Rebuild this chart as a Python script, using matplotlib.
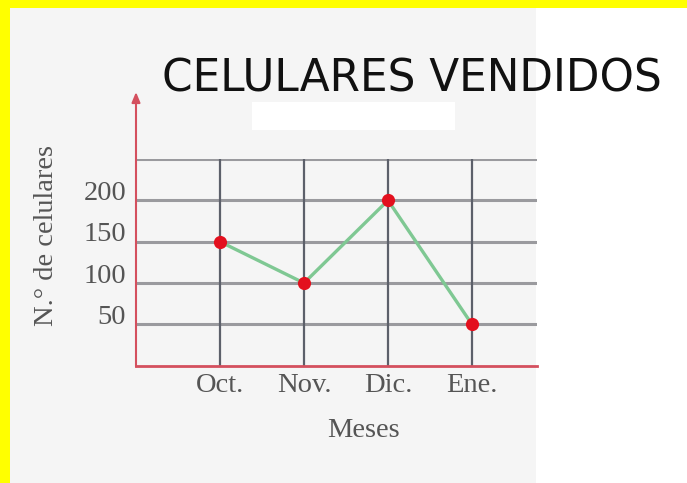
import matplotlib
matplotlib.use("Agg")
import matplotlib.pyplot as plt
from matplotlib.patches import Rectangle
from matplotlib.transforms import ScaledTranslation

# ---- data ----
meses = ["Oct.", "Nov.", "Dic.", "Ene."]
celulares = [150, 100, 200, 50]
y_grid = [50, 100, 150, 200, 250]
y_labels = ["50", "100", "150", "200", ""]
titulo = "CELULARES VENDIDOS"
x_label = "Meses"
y_label = "N.° de celulares"

W, H = 687, 483
fig = plt.figure(figsize=(W / 100, H / 100), dpi=100, facecolor="white")

def fx(px):
    return px / W

def fy(py):
    return 1 - py / H

# background panel and yellow border
fig.patches.append(Rectangle((fx(10), 0), fx(536) - fx(10), fy(8), transform=fig.transFigure,
                             facecolor="#f5f5f5", edgecolor="none", zorder=0))
fig.patches.append(Rectangle((0, fy(8)), 1, 1 - fy(8), transform=fig.transFigure,
                             facecolor="#ffff00", edgecolor="none", zorder=1))
fig.patches.append(Rectangle((0, 0), fx(10), 1, transform=fig.transFigure,
                             facecolor="#ffff00", edgecolor="none", zorder=1))
# small white box below title
fig.patches.append(Rectangle((fx(252), fy(130)), fx(455) - fx(252), fy(102) - fy(130),
                             transform=fig.transFigure, facecolor="white", edgecolor="none", zorder=1))

ax = fig.add_axes([fx(136), fy(365.7), fx(537) - fx(136), fy(159) - fy(365.7)])
ax.set_zorder(5)
ax.set_facecolor("none")
x = list(range(1, len(meses) + 1))
ax.set_xlim(0, 4.774)
ax.set_ylim(0, 250)

# grid
for v in y_grid:
    ax.axhline(v, color="#9a9a9e", lw=2.2, zorder=1)
for xi in x:
    ax.plot([xi, xi], [0, 250], color="#5c606a", lw=1.6, zorder=2)

# axes (red) with arrow
red = "#d4505e"
ax.axhline(0, color=red, lw=2.0, zorder=3, clip_on=False)
ax.annotate("", xy=(0, 331), xytext=(0, -1), xycoords="data",
            arrowprops=dict(arrowstyle="-|>,head_length=0.6,head_width=0.25",
                            color=red, lw=1.5, shrinkA=0, shrinkB=0),
            annotation_clip=False, zorder=3)

for s in ax.spines.values():
    s.set_visible(False)

# data line
ax.plot(x, celulares, color="#7fc893", lw=2.4, zorder=4)
ax.plot(x, celulares, "o", color="#e3101e", markersize=9.5, markeredgewidth=0, zorder=5)

# ticks
serif = "Liberation Serif"
grey = "#555555"
fs = 20.5
ax.set_xticks(x)
ax.set_xticklabels(meses, fontsize=fs, family=serif, color=grey)
ax.set_yticks(y_grid)
ax.set_yticklabels(y_labels, fontsize=fs, family=serif, color=grey)
ax.tick_params(length=0, pad=5)
ax.tick_params(axis="y", pad=7)
for lab in ax.get_yticklabels():
    lab.set_transform(lab.get_transform() + ScaledTranslation(0, 10 / 100, fig.dpi_scale_trans))

ax.set_xlabel(x_label, fontsize=fs, family=serif, color=grey)
ax.xaxis.set_label_coords((363 - 136) / (537 - 136), -(418 - 365.7) / (365.7 - 159))
ax.set_ylabel(y_label, fontsize=fs, family=serif, color=grey)
ax.yaxis.set_label_coords(-(136 - 59) / (537 - 136), (365.7 - 236) / (365.7 - 159))

fig.text(fx(162), fy(78.5), titulo, fontsize=31.5, family="DejaVu Sans", color="#111111",
         ha="left", va="center")

fig.savefig("out.png", dpi=100, facecolor="white")
